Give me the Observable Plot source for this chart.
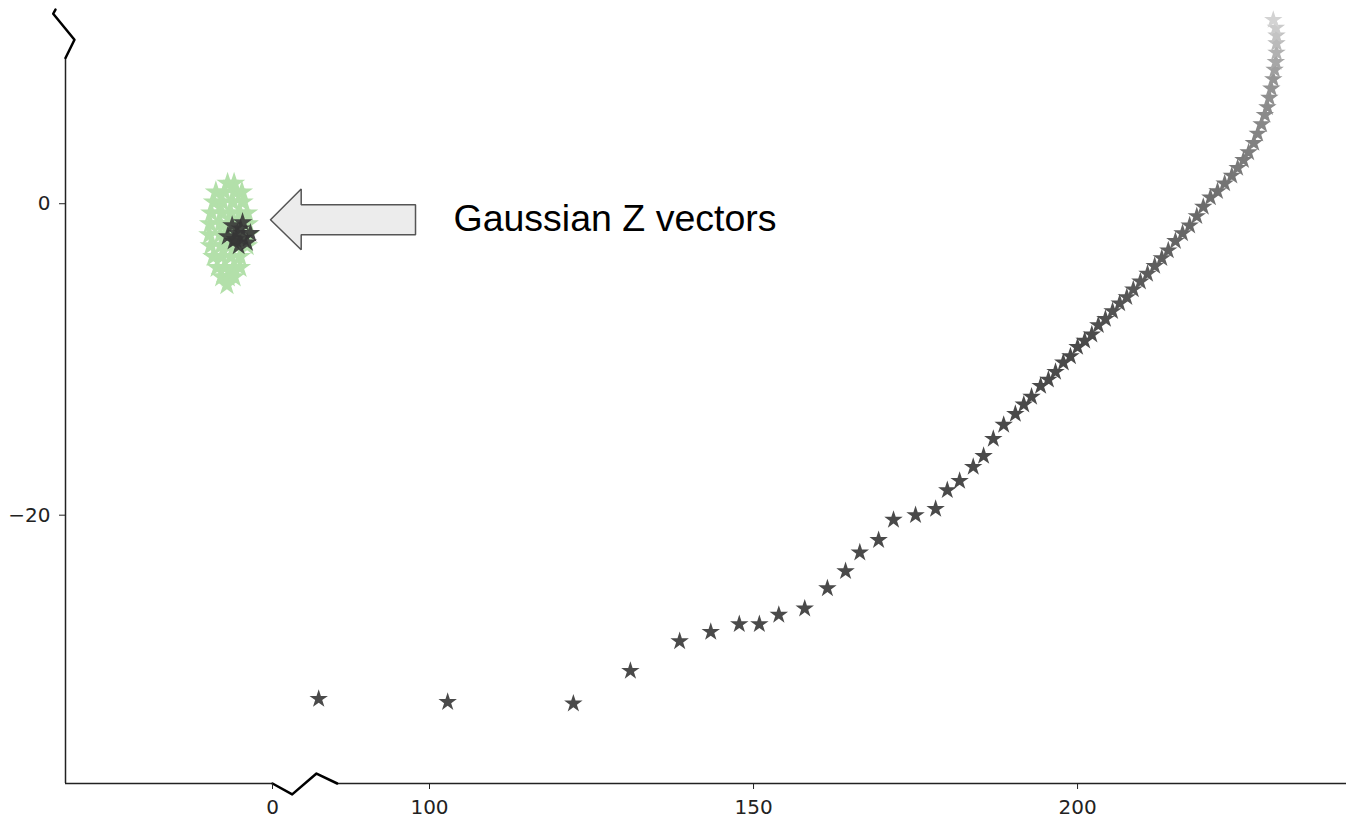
<!DOCTYPE html>
<html><head><meta charset="utf-8">
<script src="https://cdn.jsdelivr.net/npm/d3@7"></script>
<script src="https://cdn.jsdelivr.net/npm/@observablehq/plot@0.6"></script>
<style>body{margin:0;background:#fff;}</style>
</head><body><div id="chart"></div>
<script>
// ---- data ----
const sparseX = [82.9,102.8,122.2,131.0,138.6,143.4,147.8,150.9,153.9,157.9,161.4,164.2,166.4,169.3,171.6,175.0,178.1,179.9,181.8,183.9,185.5,187.0,188.6,190.4,191.7,192.9,194.3,195.5,196.6,197.8,198.9,200.0];
const sparseY = [-31.8,-32.0,-32.1,-30.0,-28.1,-27.5,-27.0,-27.0,-26.4,-26.0,-24.7,-23.6,-22.4,-21.6,-20.3,-20.0,-19.6,-18.4,-17.8,-16.9,-16.2,-15.1,-14.2,-13.5,-12.9,-12.4,-11.7,-11.3,-10.8,-10.2,-9.8,-9.2];
const trailX = [201.1,202.2,203.2,204.3,205.4,206.5,207.6,208.6,209.7,210.8,211.9,213.0,214.0,215.1,216.2,217.3,218.4,219.4,220.5,221.6,222.7,223.8,224.7,225.6,226.4,227.2,227.8,228.4,228.9,229.3,229.6,229.9,230.2,230.4,230.6,230.7,230.7,230.7,230.6,230.2];
const trailY = [-8.8,-8.4,-7.8,-7.4,-6.9,-6.4,-6.0,-5.5,-5.0,-4.5,-4.0,-3.5,-3.0,-2.4,-1.9,-1.4,-0.8,-0.2,0.4,0.8,1.3,1.8,2.3,2.8,3.3,3.9,4.5,5.1,5.7,6.2,6.8,7.4,8.0,8.6,9.1,9.7,10.3,10.8,11.3,11.8];
const gaussX = [-6.2,-4.6,-5.4,-6.9,-4.5,-3.4,-5.2,-6.0,-3.9,-4.9,-5.7];
const gaussY = [-1.4,-1.2,-1.9,-2.1,-2.2,-1.9,-2.7,-2.4,-2.5,-1.6,-2.3];
const cloudX = [-6.9,-5.9,
  -8.7,-7.4,-5.8,-4.7,
  -9.0,-7.7,-6.1,-4.6,
  -9.4,-7.8,-6.4,-5.0,-3.9,
  -9.6,-8.0,-6.7,-5.2,-3.8,
  -9.7,-8.0,-6.7,-5.2,-3.7,
  -9.5,-7.9,-6.6,-5.2,-3.9,
  -9.1,-7.8,-6.4,-5.0,
  -8.5,-7.4,-6.0,-5.0,
  -7.8,-6.8,-5.9,
  -7.0];
const cloudY = [1.3,1.3,
  0.75,0.75,0.75,0.75,
  0.1,0.1,0.1,0.1,
  -0.6,-0.6,-0.6,-0.6,-0.6,
  -1.3,-1.3,-1.3,-1.3,-1.3,
  -2.0,-2.0,-2.0,-2.0,-2.0,
  -2.7,-2.7,-2.7,-2.7,-2.7,
  -3.4,-3.4,-3.4,-3.4,
  -4.1,-4.1,-4.1,-4.1,
  -4.7,-4.7,-4.7,
  -5.2];
const xTicks = [0, 100, 150, 200];
const yTicks = [0, -20];
const xDomain = [-31.8, 0, 80, 241.5];          // broken (piecewise) x axis
const yDomain = [-37.23, 13.05];
const arrowX = [-0.31, 80.2, 80.2, 97.84, 97.84, 80.2, 80.2, -0.31];
const arrowY = [-1.03, 0.945, -0.064, -0.064, -1.99, -1.99, -2.96, -1.03];
const labelText = "Gaussian Z vectors";
const labelX = 103.7, labelY = -0.96;
const xBreakX = [0, 57.5, 82.56, 85.76];
const xBreakY = [-37.23, -37.93, -36.59, -37.23];
const yBreakX = [-33.34, -33.69, -30.42, -31.8];
const yBreakY = [12.47, 12.20, 10.53, 9.36];
const shadeDomain = [-9, 0, 8, 12];
const shadeRange = ["#4a4a4a", "#6d6d6d", "#959595", "#d6d6d6"];

// ---- tables ----
const zip = (xs, ys) => xs.map((x, i) => ({x, y: ys[i]}));
const path = zip(sparseX.concat(trailX), sparseY.concat(trailY));
const gauss = zip(gaussX, gaussY);
const cloud = zip(cloudX, cloudY);
const arrow = zip(arrowX, arrowY);
const xBreak = zip(xBreakX, xBreakY);
const yBreak = zip(yBreakX, yBreakY);
const fmt = d => d < 0 ? "\u2212" + Math.abs(d) : String(d);

const chart = Plot.plot({
  width: 1346, height: 818,
  marginLeft: 65, marginRight: 0, marginTop: 0, marginBottom: 35,
  style: {fontFamily: "DejaVu Sans", fontSize: "20px", background: "white", color: "#222"},
  x: {type: "linear", domain: xDomain, range: [65, 272, 299.4, 1346]},
  y: {type: "linear", domain: yDomain, range: [783, 0]},
  color: {type: "linear", domain: shadeDomain, range: shadeRange, clamp: true},
  marks: [
    Plot.dot(cloud, {x: "x", y: "y", symbol: "star", r: 7, fill: "#b3e0aa"}),
    Plot.dot(gauss, {x: "x", y: "y", symbol: "star", r: 6.2, fill: "#363636", fillOpacity: 0.9}),
    Plot.dot(path, {x: "x", y: "y", symbol: "star", r: 5.8, fill: "y"}),
    Plot.line(arrow, {x: "x", y: "y", fill: "#ececec", stroke: "#555", strokeWidth: 1.5, strokeLinejoin: "miter"}),
    Plot.text([labelText], {x: labelX, y: labelY, text: d => d, textAnchor: "start", lineAnchor: "middle",
      fontSize: 37.5, fontFamily: "Liberation Sans, Arial, sans-serif", fill: "#000"}),
    Plot.ruleX([xDomain[0]], {y1: yBreakY[3], y2: yDomain[0], stroke: "#222", strokeWidth: 1.5}),
    Plot.ruleY([yDomain[0]], {x1: xDomain[0], x2: 0, stroke: "#222", strokeWidth: 1.5}),
    Plot.ruleY([yDomain[0]], {x1: xBreakX[3], x2: xDomain[3], stroke: "#222", strokeWidth: 1.5}),
    Plot.line(xBreak, {x: "x", y: "y", stroke: "#000", strokeWidth: 2.5}),
    Plot.line(yBreak, {x: "x", y: "y", stroke: "#000", strokeWidth: 2.5}),
    Plot.axisX({ticks: xTicks, tickSize: 6, tickPadding: 10, fontSize: 20, tickFormat: fmt, label: null}),
    Plot.axisY({ticks: yTicks, tickSize: 6, tickPadding: 9, fontSize: 20, tickFormat: fmt, label: null})
  ]
});
document.getElementById("chart").appendChild(chart);
</script>
</body></html>
